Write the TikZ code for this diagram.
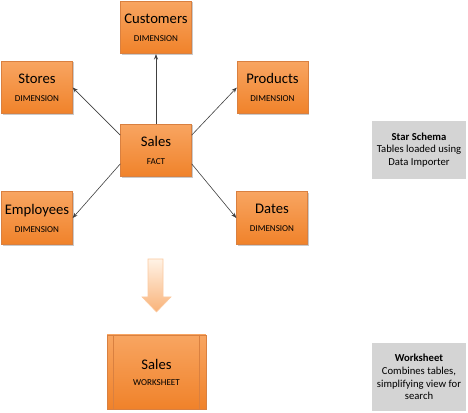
\documentclass[tikz,border=0pt]{standalone}
\usepackage{fontspec}
\setmainfont{Carlito}
\usetikzlibrary{arrows.meta,shadows,calc}
\definecolor{otop}{HTML}{F8A561}
\definecolor{obot}{HTML}{F0822A}
\definecolor{oedge}{HTML}{D98040}
\definecolor{gbox}{HTML}{D4D4D4}
\tikzset{
  tbl/.style={draw=oedge, line width=0.5pt, top color=otop, bottom color=obot,
    minimum width=53pt, minimum height=39.5pt, inner sep=0pt, align=center,
    drop shadow={shadow xshift=1pt, shadow yshift=-1pt, fill=black!35, opacity=0.6}},
  conn/.style={draw=black!75, line width=0.45pt, -{Stealth[length=4pt,width=3pt]}},
  note/.style={fill=gbox, minimum width=70.5pt, inner sep=0pt, align=center,
    font=\fontsize{8}{9.6}\selectfont}
}
\newcommand{\tbltext}[2]{{\fontsize{11}{12}\selectfont #1}\\[1.5pt]{\fontsize{6.8}{8}\selectfont #2}}
\begin{document}
\begin{tikzpicture}[x=0.75pt,y=-0.75pt]
\useasboundingbox (0,0) rectangle (468,413);
\node[tbl] (cust) at (156,27.5) {\tbltext{Customers}{DIMENSION}};
\node[tbl] (stores) at (37,87.5) {\tbltext{Stores}{DIMENSION}};
\node[tbl] (prod) at (272.5,87.5) {\tbltext{Products}{DIMENSION}};
\node[tbl] (sales) at (156,150.5) {\tbltext{Sales}{FACT}};
\node[tbl] (emp) at (37,218) {\tbltext{Employees}{DIMENSION}};
\node[tbl] (dates) at (272,218) {\tbltext{Dates}{DIMENSION}};
\draw[conn] (sales.north) -- (cust.south);
\draw[conn] ([yshift=-8.5pt]sales.north east) -- (prod.west);
\draw[conn] ([yshift=-8.5pt]sales.north west) -- (stores.east);
\draw[conn] ([yshift=10pt]sales.south west) -- (emp.east);
\draw[conn] ([yshift=10pt]sales.south east) -- (dates.west);
% big down arrow
\shade[top color=orange!10!white, bottom color=otop!85!white, draw=otop!60!white, line width=0.4pt]
  (148,259) -- (163,259) -- (163,297) -- (171,297) -- (156.5,312) -- (142,297) -- (148,297) -- cycle;
% worksheet
\node[tbl, minimum width=74pt, minimum height=55.5pt] (ws) at (156.5,372) {{\fontsize{11}{12}\selectfont Sales}\\[0pt]{\fontsize{6.8}{8}\selectfont WORKSHEET}};
\draw[oedge, line width=0.5pt] ([xshift=4.5pt]ws.north west) -- ([xshift=4.5pt]ws.south west);
\draw[oedge, line width=0.5pt] ([xshift=-5pt]ws.north east) -- ([xshift=-5pt]ws.south east);
% notes
\node[note, minimum height=43.5pt] (n1) at (419,150) {\textbf{Star Schema}\\Tables loaded using\\Data Importer};
\node[note, minimum height=51pt] (n2) at (419,377) {\textbf{Worksheet}\\Combines tables,\\simplifying view for\\search};
\end{tikzpicture}
\end{document}
